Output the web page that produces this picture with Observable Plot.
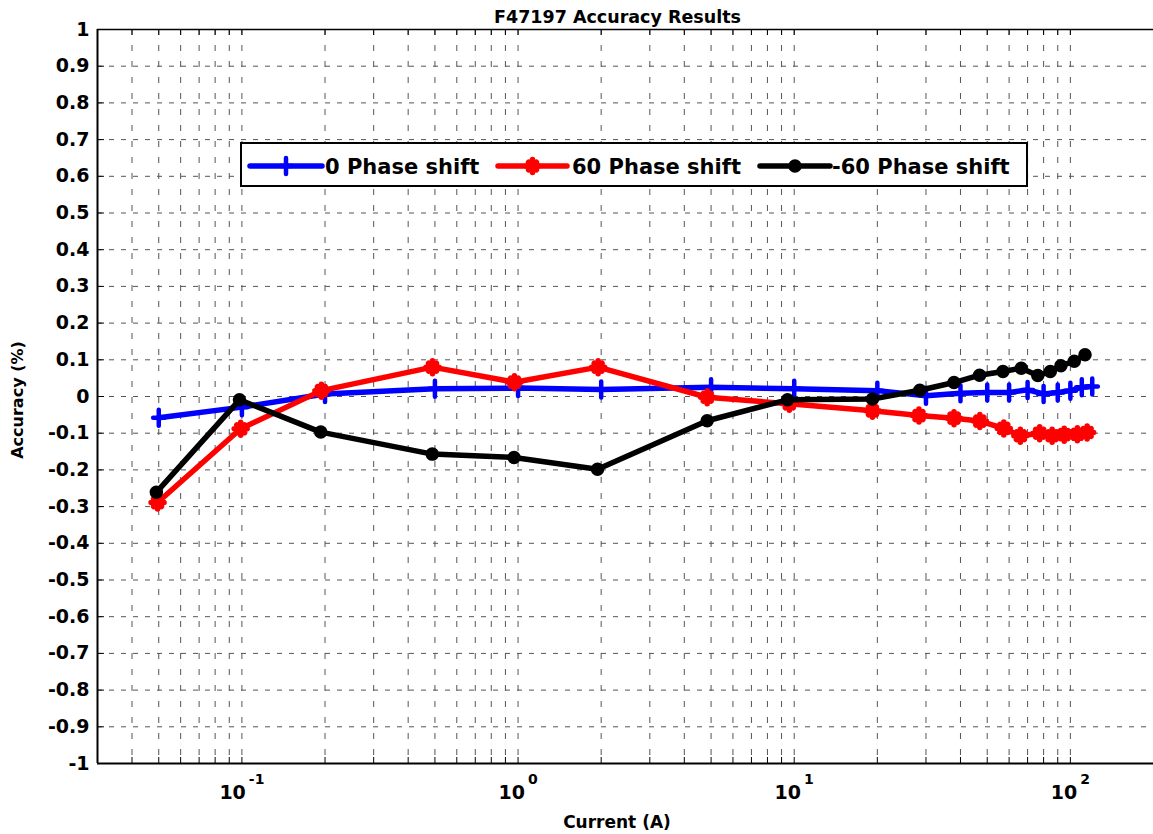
<!DOCTYPE html>
<html>
<head>
<meta charset="utf-8">
<script src="https://cdn.jsdelivr.net/npm/d3@7"></script>
<script src="https://cdn.jsdelivr.net/npm/@observablehq/plot@0.6"></script>
<style>
  body { margin: 0; background: #fff; }
  #wrap { position: relative; width: 1153px; height: 834px; overflow: hidden; background: #fff; }
  #wrap > svg { position: absolute; left: 0; top: 0; }
</style>
</head>
<body>
<div id="wrap"></div>
<script>
// ---------- data ----------
const chartTitle = "F47197 Accuracy Results";
const xLabel = "Current (A)";
const yLabel = "Accuracy (%)";
const seriesNames = ["0 Phase shift", "60 Phase shift", "-60 Phase shift"];
const seriesColors = ["#0000ff", "#ff0000", "#000000"];

const currentZero = [0.05, 0.1, 0.2, 0.5, 1, 2, 5, 10, 20, 30, 40, 50, 60, 70, 80, 90, 100, 110, 120];
const accuracyZero = [-0.058, -0.029, 0.007, 0.021, 0.023, 0.019, 0.025, 0.021, 0.016, 0.002, 0.009, 0.011, 0.011, 0.018, 0.007, 0.011, 0.016, 0.025, 0.027];

const currentPlus60 = [0.0495, 0.099, 0.194, 0.49, 0.97, 1.95, 4.84, 9.6, 19.2, 28.3, 37.9, 47, 57.4, 65.9, 77.4, 85.9, 95, 106, 115];
const accuracyPlus60 = [-0.289, -0.088, 0.016, 0.080, 0.039, 0.080, -0.002, -0.020, -0.039, -0.052, -0.059, -0.067, -0.087, -0.107, -0.100, -0.107, -0.104, -0.103, -0.098];

const currentMinus60 = [0.049, 0.098, 0.193, 0.489, 0.967, 1.94, 4.84, 9.46, 19.2, 28.5, 37.9, 46.9, 57, 66.4, 76.2, 84.6, 92.4, 103.3, 113];
const accuracyMinus60 = [-0.261, -0.009, -0.097, -0.157, -0.166, -0.198, -0.066, -0.009, -0.007, 0.017, 0.038, 0.058, 0.068, 0.077, 0.057, 0.068, 0.084, 0.096, 0.114];

const xDomain = [0.03, 200];
const yDomain = [-1, 1];
const xTicks = [0.04, 0.05, 0.06, 0.07, 0.08, 0.09, 0.1, 0.2, 0.3, 0.4, 0.5, 0.6, 0.7, 0.8, 0.9, 1, 2, 3, 4, 5, 6, 7, 8, 9, 10, 20, 30, 40, 50, 60, 70, 80, 90, 100];
const xLabelTicks = [0.1, 1, 10, 100];
const xLabelExponents = ["-1", "0", "1", "2"];
const yTicks = [-1, -0.9, -0.8, -0.7, -0.6, -0.5, -0.4, -0.3, -0.2, -0.1, 0, 0.1, 0.2, 0.3, 0.4, 0.5, 0.6, 0.7, 0.8, 0.9, 1];

// ---------- build ----------
const zip = (xs, ys) => xs.map((x, i) => ({x, y: ys[i]}));
const dZero = zip(currentZero, accuracyZero);
const dPlus = zip(currentPlus60, accuracyPlus60);
const dMinus = zip(currentMinus60, accuracyMinus60);

const W = 1153, H = 834;
const mL = 97, mR = 0, mT = 29, mB = 71;
const frameW = W - mL - mR, frameH = H - mT - mB;

const plusSym = {
  draw(ctx, size) {
    const r = Math.sqrt(size / Math.PI);
    ctx.moveTo(-0.7 * r, 0); ctx.lineTo(0.7 * r, 0);
    ctx.moveTo(0, -r); ctx.lineTo(0, r);
  }
};
const starSym = {
  draw(ctx, size) {
    const r = Math.sqrt(size / Math.PI);
    const d = r * 0.6;
    ctx.moveTo(-r, 0); ctx.lineTo(r, 0);
    ctx.moveTo(0, -r); ctx.lineTo(0, r);
    ctx.moveTo(-d, -d); ctx.lineTo(d, d);
    ctx.moveTo(-d, d); ctx.lineTo(d, -d);
  }
};

const fmtY = d => String(+d.toFixed(1));
const gridColor = "#555";
const lineW = 5.5;

const plot = Plot.plot({
  width: W, height: H,
  marginLeft: mL, marginRight: mR, marginTop: mT, marginBottom: mB,
  style: {fontFamily: "'DejaVu Sans', sans-serif", fontWeight: "bold", background: "white", color: "black"},
  x: {type: "log", domain: xDomain, range: [mL, W - mR], axis: null},
  y: {domain: yDomain, axis: null},
  marks: [
    Plot.gridY(yTicks.slice(1, -1), {stroke: gridColor, strokeOpacity: 1, strokeWidth: 1, strokeDasharray: "5,7"}),
    Plot.gridX(xTicks, {stroke: gridColor, strokeOpacity: 1, strokeWidth: 1, strokeDasharray: "6,10"}),
    Plot.tickX(xTicks, {x: d => d, insetTop: frameH - 6, stroke: "black", strokeWidth: 1}),
    Plot.tickX(xTicks, {x: d => d, insetBottom: frameH - 6, stroke: "black", strokeWidth: 1}),
    Plot.tickY(yTicks, {y: d => d, insetRight: frameW - 7, stroke: "black", strokeWidth: 1}),
    Plot.ruleX([xDomain[0]], {stroke: "black", strokeWidth: 2}),
    Plot.ruleY([yDomain[0]], {stroke: "black", strokeWidth: 2}),
    Plot.ruleY([yDomain[1]], {stroke: "black", strokeWidth: 1.5}),
    Plot.axisY(yTicks, {anchor: "left", tickSize: 0, tickPadding: 8, tickFormat: fmtY, fontSize: 19, label: null}),
    Plot.axisX(xLabelTicks, {anchor: "bottom", tickSize: 0, tickPadding: 22,
      tickFormat: d => "10^" + xLabelExponents[xLabelTicks.indexOf(d)], fontSize: 19, label: null}),
    // series
    Plot.line(dZero, {x: "x", y: "y", stroke: seriesColors[0], strokeWidth: lineW, strokeLinejoin: "round"}),
    Plot.dot(dZero, {x: "x", y: "y", symbol: plusSym, r: 8, fill: "none", stroke: seriesColors[0], strokeWidth: 4.5, strokeLinecap: "round"}),
    Plot.line(dPlus, {x: "x", y: "y", stroke: seriesColors[1], strokeWidth: lineW, strokeLinejoin: "round"}),
    Plot.dot(dPlus, {x: "x", y: "y", symbol: starSym, r: 6.5, fill: "none", stroke: seriesColors[1], strokeWidth: 5.5, strokeLinecap: "round"}),
    Plot.line(dMinus, {x: "x", y: "y", stroke: seriesColors[2], strokeWidth: lineW, strokeLinejoin: "round"}),
    Plot.dot(dMinus, {x: "x", y: "y", r: 5.5, fill: seriesColors[2], stroke: seriesColors[2], strokeWidth: 2.5})
  ]
});

// superscript exponents on the x tick labels
d3.select(plot).selectAll('g[aria-label="x-axis tick label"] text').each(function() {
  const t = d3.select(this);
  const parts = t.text().split("^");
  if (parts.length !== 2) return;
  t.text(null);
  t.append("tspan").text(parts[0]);
  t.append("tspan").attr("dx", 3).attr("dy", -15).attr("font-size", 14).text(parts[1]);
});

const wrap = document.getElementById("wrap");
wrap.appendChild(plot);

// overlay: title, axis labels, legend
const ov = d3.select(wrap).append("svg")
  .attr("width", W).attr("height", H)
  .style("font-family", "'DejaVu Sans', sans-serif").style("font-weight", "bold");

ov.append("text").attr("x", 617.5).attr("y", 23).attr("text-anchor", "middle")
  .attr("font-size", 17.5).text(chartTitle);
ov.append("text").attr("x", 617).attr("y", 828).attr("text-anchor", "middle")
  .attr("font-size", 17).text(xLabel);
ov.append("text").attr("transform", "translate(23,400) rotate(-90)").attr("text-anchor", "middle")
  .attr("font-size", 16).text(yLabel);

const lg = ov.append("g");
lg.append("rect").attr("x", 241).attr("y", 143).attr("width", 786).attr("height", 43)
  .attr("fill", "white").attr("stroke", "black").attr("stroke-width", 2);
const legendLayout = [
  {x0: 250, x1: 322, tx: 325},
  {x0: 498, x1: 567, tx: 572},
  {x0: 760, x1: 830, tx: 832}
];
const ly = 166;
seriesNames.forEach((name, i) => {
  const L = legendLayout[i];
  lg.append("line").attr("x1", L.x0).attr("x2", L.x1).attr("y1", ly).attr("y2", ly)
    .attr("stroke", seriesColors[i]).attr("stroke-width", lineW).attr("stroke-linecap", "round");
  const cx = (L.x0 + L.x1) / 2;
  if (i === 0) {
    lg.append("path").attr("d", d3.symbol(plusSym, 8 * 8 * Math.PI)()).attr("transform", `translate(${cx},${ly})`)
      .attr("fill", "none").attr("stroke", seriesColors[i]).attr("stroke-width", 4.5).attr("stroke-linecap", "round");
  } else if (i === 1) {
    lg.append("path").attr("d", d3.symbol(starSym, 6.5 * 6.5 * Math.PI)()).attr("transform", `translate(${cx},${ly})`)
      .attr("fill", "none").attr("stroke", seriesColors[i]).attr("stroke-width", 5.5).attr("stroke-linecap", "round");
  } else {
    lg.append("circle").attr("cx", cx).attr("cy", ly).attr("r", 5.5)
      .attr("fill", seriesColors[i]).attr("stroke", seriesColors[i]).attr("stroke-width", 2.5);
  }
  lg.append("text").attr("x", L.tx).attr("y", ly + 7.5).attr("font-size", 21).text(name);
});
</script>
</body>
</html>
